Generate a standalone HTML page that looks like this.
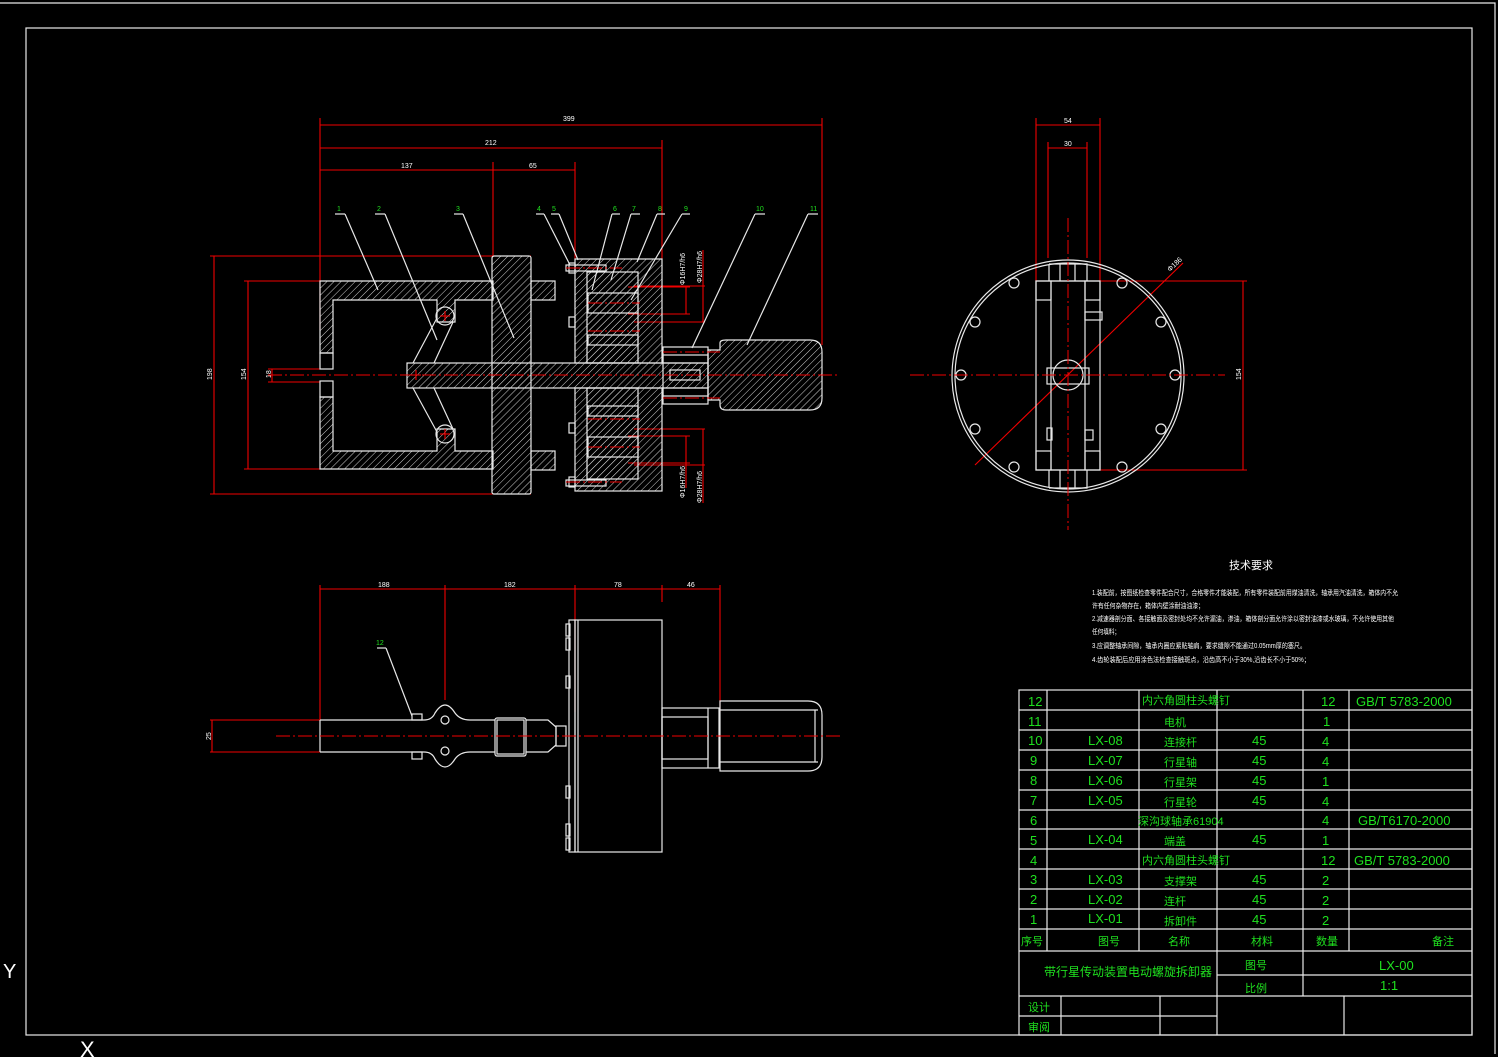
<!DOCTYPE html>
<html><head><meta charset="utf-8"><style>
html,body{margin:0;padding:0;background:#000;}
svg{display:block}
text{font-family:"Liberation Sans","Noto Sans CJK SC",sans-serif;}
.w{stroke:#e8e8e8;fill:none;stroke-width:1.2}
.h{stroke:#e8e8e8;fill:url(#hat);stroke-width:1.2}
.r{stroke:#f00000;fill:none;stroke-width:1.1}
.c{stroke:#f00000;fill:none;stroke-width:1;stroke-dasharray:14 3 2 3}
.g{fill:#1fe01f;font-size:13px}
.gs{fill:#1fe01f;font-size:7px}
.d{fill:#fff;font-size:7px}
.t{fill:#fff;font-size:7px}
</style></head><body>
<svg width="1498" height="1057" viewBox="0 0 1498 1057" xmlns="http://www.w3.org/2000/svg">
<defs>
<pattern id="hat" width="5" height="5" patternUnits="userSpaceOnUse" patternTransform="rotate(45)">
<line x1="0" y1="0" x2="0" y2="5" stroke="#cfcfcf" stroke-width="1"/>
</pattern>
</defs>
<rect width="1498" height="1057" fill="#000"/>
<polyline points="0,3 1495,3 1495,1054" class="w" stroke-width="1"/>
<rect x="26" y="28" width="1446" height="1007" class="w"/>
<text x="3" y="978" fill="#fff" font-size="20">Y</text>
<text x="80" y="1057" fill="#fff" font-size="22">X</text>

<g class="r">
<line x1="320" y1="125" x2="822" y2="125"/><line x1="320" y1="148" x2="662" y2="148"/>
<line x1="320" y1="170" x2="575" y2="170"/>
<line x1="320" y1="118" x2="320" y2="330"/><line x1="493" y1="162" x2="493" y2="256"/>
<line x1="575" y1="162" x2="575" y2="259"/><line x1="662" y1="140" x2="662" y2="259"/>
<line x1="822" y1="118" x2="822" y2="345"/>
<line x1="214" y1="256" x2="214" y2="494"/><line x1="210" y1="256" x2="531" y2="256"/><line x1="210" y1="494" x2="531" y2="494"/>
<line x1="248" y1="281" x2="248" y2="469"/><line x1="244" y1="281" x2="330" y2="281"/><line x1="244" y1="469" x2="330" y2="469"/>
<line x1="272" y1="369" x2="272" y2="382"/><line x1="268" y1="369" x2="320" y2="369"/><line x1="268" y1="382" x2="320" y2="382"/>
<line x1="628" y1="287" x2="690" y2="287"/><line x1="628" y1="314" x2="690" y2="314"/><line x1="686" y1="287" x2="686" y2="314"/>
<line x1="634" y1="286" x2="705" y2="286"/><line x1="634" y1="322" x2="705" y2="322"/><line x1="703" y1="250" x2="703" y2="322"/>
<line x1="628" y1="436" x2="690" y2="436"/><line x1="628" y1="463" x2="690" y2="463"/><line x1="686" y1="436" x2="686" y2="488"/>
<line x1="634" y1="429" x2="705" y2="429"/><line x1="634" y1="465" x2="705" y2="465"/><line x1="703" y1="429" x2="703" y2="503"/>
</g>
<text x="563" y="121" class="d">399</text><text x="485" y="145" class="d">212</text>
<text x="401" y="168" class="d">137</text><text x="529" y="168" class="d">65</text>
<text x="212" y="380" class="d" transform="rotate(-90 212 380)">198</text>
<text x="246" y="380" class="d" transform="rotate(-90 246 380)">154</text>
<text x="271" y="378" class="d" transform="rotate(-90 271 378)">18</text>
<text x="685" y="285" class="d" font-size="6" transform="rotate(-90 685 285)">Φ16H7/h6</text>
<text x="702" y="283" class="d" font-size="6" transform="rotate(-90 702 283)">Φ28H7/h6</text>
<text x="685" y="498" class="d" font-size="6" transform="rotate(-90 685 498)">Φ16H7/h6</text>
<text x="702" y="503" class="d" font-size="6" transform="rotate(-90 702 503)">Φ28H7/h6</text>

<path class="h" d="M320,281 H493 V300 H455 V322 H437 V300 H333 V353 H320 Z"/>
<path class="h" d="M320,469 H493 V451 H455 V429 H437 V451 H333 V397 H320 Z"/>
<rect x="320" y="353" width="13" height="16" class="w"/><rect x="320" y="381" width="13" height="16" class="w"/>
<rect x="531" y="281" width="24" height="19" class="h"/><rect x="531" y="451" width="24" height="19" class="h"/>
<circle cx="445" cy="316" r="9" class="w"/><circle cx="445" cy="434" r="9" class="w"/>
<line x1="413" y1="363" x2="437" y2="318" class="w"/><line x1="434" y1="363" x2="453" y2="322" class="w"/>
<line x1="413" y1="388" x2="437" y2="432" class="w"/><line x1="434" y1="388" x2="453" y2="429" class="w"/>
<rect x="492" y="256" width="39" height="238" rx="2" class="h"/>
<rect x="407" y="363" width="301" height="25" class="h"/>
<g class="r" stroke-width="1.5"><line x1="411" y1="375" x2="421" y2="375"/><line x1="416" y1="370" x2="416" y2="380"/>
<line x1="440" y1="316" x2="450" y2="316"/><line x1="445" y1="311" x2="445" y2="321"/>
<line x1="440" y1="434" x2="450" y2="434"/><line x1="445" y1="429" x2="445" y2="439"/></g>
<rect x="575" y="259" width="87" height="104" class="h"/>
<rect x="575" y="388" width="87" height="103" class="h"/>
<rect x="587" y="272" width="51" height="91" class="h"/>
<rect x="587" y="388" width="51" height="91" class="h"/>
<rect x="588" y="293" width="50" height="20" fill="#000" class="w"/>
<rect x="588" y="437" width="50" height="20" fill="#000" class="w"/>
<rect x="588" y="335" width="50" height="10" fill="#000" class="w"/>
<rect x="588" y="406" width="50" height="10" fill="#000" class="w"/>
<rect x="569" y="263" width="6" height="10" class="w"/><rect x="569" y="317" width="6" height="10" class="w"/>
<rect x="569" y="423" width="6" height="10" class="w"/><rect x="569" y="477" width="6" height="10" class="w"/>
<rect x="566" y="265" width="40" height="6" class="w"/><rect x="566" y="480" width="40" height="6" class="w"/>
<rect x="663" y="347" width="45" height="57" class="w"/>
<rect x="663" y="355" width="45" height="8" class="w"/><rect x="663" y="388" width="45" height="8" class="w"/>
<rect x="670" y="370" width="30" height="10" class="w"/>
<path class="h" d="M708,350 H720 V343 Q720,340 726,340 H810 Q822,340 822,352 V398 Q822,410 810,410 H726 Q720,410 720,405 V400 H708 Z"/>
<g class="c"><line x1="268" y1="375" x2="840" y2="375"/>
<line x1="566" y1="268" x2="622" y2="268"/><line x1="566" y1="482" x2="622" y2="482"/>
<line x1="588" y1="303" x2="640" y2="303"/><line x1="588" y1="447" x2="640" y2="447"/>
<line x1="588" y1="331" x2="640" y2="331"/><line x1="588" y1="419" x2="640" y2="419"/>
<line x1="663" y1="352" x2="720" y2="352"/><line x1="663" y1="398" x2="720" y2="398"/></g>
<g class="w" stroke-width="0.9">
<line x1="335" y1="214" x2="345" y2="214"/><line x1="345" y1="214" x2="378" y2="290"/>
<line x1="375" y1="214" x2="385" y2="214"/><line x1="385" y1="214" x2="437" y2="340"/>
<line x1="454" y1="214" x2="463" y2="214"/><line x1="463" y1="214" x2="514" y2="338"/>
<line x1="536" y1="214" x2="544" y2="214"/><line x1="544" y1="214" x2="570" y2="265"/>
<line x1="551" y1="214" x2="559" y2="214"/><line x1="559" y1="214" x2="578" y2="260"/>
<line x1="612" y1="214" x2="620" y2="214"/><line x1="612" y1="214" x2="592" y2="290"/>
<line x1="631" y1="214" x2="640" y2="214"/><line x1="631" y1="214" x2="611" y2="280"/>
<line x1="657" y1="214" x2="665" y2="214"/><line x1="657" y1="214" x2="637" y2="262"/>
<line x1="682" y1="214" x2="690" y2="214"/><line x1="682" y1="214" x2="631" y2="300"/>
<line x1="755" y1="214" x2="765" y2="214"/><line x1="755" y1="214" x2="692" y2="348"/>
<line x1="808" y1="214" x2="818" y2="214"/><line x1="808" y1="214" x2="747" y2="345"/>
</g>
<g class="gs"><text x="337" y="211">1</text><text x="377" y="211">2</text><text x="456" y="211">3</text>
<text x="537" y="211">4</text><text x="552" y="211">5</text><text x="613" y="211">6</text><text x="632" y="211">7</text>
<text x="658" y="211">8</text><text x="684" y="211">9</text><text x="756" y="211">10</text><text x="810" y="211">11</text></g>

<g class="r">
<line x1="1036" y1="125" x2="1100" y2="125"/><line x1="1036" y1="118" x2="1036" y2="281"/><line x1="1100" y1="118" x2="1100" y2="281"/>
<line x1="1048" y1="148" x2="1087" y2="148"/><line x1="1048" y1="142" x2="1048" y2="258"/><line x1="1087" y1="142" x2="1087" y2="258"/>
<line x1="1243" y1="281" x2="1243" y2="470"/><line x1="1075" y1="281" x2="1247" y2="281"/><line x1="1075" y1="470" x2="1247" y2="470"/>
<line x1="975" y1="465" x2="1183" y2="263"/>
</g>
<text x="1064" y="123" class="d">54</text><text x="1064" y="146" class="d">30</text>
<text x="1241" y="380" class="d" transform="rotate(-90 1241 380)">154</text>
<text x="1170" y="272" class="d" transform="rotate(-44 1170 272)">Φ186</text>
<circle cx="1068" cy="376" r="116" class="w"/><circle cx="1068" cy="376" r="113" class="w"/>
<g class="w">
<circle cx="1014" cy="283" r="5"/><circle cx="1122" cy="283" r="5"/>
<circle cx="975" cy="322" r="5"/><circle cx="1161" cy="322" r="5"/>
<circle cx="961" cy="375" r="5"/><circle cx="1175" cy="375" r="5"/>
<circle cx="975" cy="429" r="5"/><circle cx="1161" cy="429" r="5"/>
<circle cx="1014" cy="467" r="5"/><circle cx="1122" cy="467" r="5"/>
<rect x="1036" y="281" width="64" height="189"/>
<rect x="1051" y="281" width="34" height="189"/>
<rect x="1036" y="281" width="15" height="19"/><rect x="1085" y="281" width="15" height="19"/>
<rect x="1036" y="451" width="15" height="19"/><rect x="1085" y="451" width="15" height="19"/>
<path d="M1049,264 H1087 V281 M1049,264 V281"/><path d="M1049,488 H1087 V470 M1049,488 V470"/>
<path d="M1060,264 V281 M1075,264 V281 M1060,470 V488 M1075,470 V488"/>
<circle cx="1068" cy="375" r="15"/><rect x="1047" y="368" width="42" height="16"/>
<rect x="1085" y="312" width="17" height="8"/><rect x="1085" y="430" width="8" height="10"/><rect x="1047" y="428" width="5" height="12"/>
</g>
<g class="c"><line x1="910" y1="375" x2="1225" y2="375"/><line x1="1068" y1="218" x2="1068" y2="530"/></g>

<g class="r">
<line x1="320" y1="589" x2="720" y2="589"/>
<line x1="320" y1="585" x2="320" y2="720"/><line x1="445" y1="585" x2="445" y2="700"/>
<line x1="575" y1="585" x2="575" y2="712"/><line x1="662" y1="585" x2="662" y2="602"/><line x1="720" y1="585" x2="720" y2="712"/>
<line x1="212" y1="720" x2="212" y2="752"/><line x1="210" y1="720" x2="325" y2="720"/><line x1="210" y1="752" x2="325" y2="752"/>
</g>
<text x="378" y="587" class="d">188</text><text x="504" y="587" class="d">182</text>
<text x="614" y="587" class="d">78</text><text x="687" y="587" class="d">46</text>
<text x="211" y="740" class="d" transform="rotate(-90 211 740)">25</text>
<g class="w">
<path d="M320,720 V752"/>
<path d="M320,720 H424 Q432,720 435,713 Q440,705 445,705 Q450,705 455,713 Q460,720 470,720 H495"/>
<path d="M320,752 H424 Q432,752 435,759 Q440,767 445,767 Q450,767 455,759 Q460,752 470,752 H495"/>
<rect x="495" y="718" width="31" height="38" rx="2"/><rect x="497" y="720" width="27" height="34"/>
<path d="M526,720 H548 L556,727 V745 L548,752 H526"/>
<rect x="556" y="726" width="10" height="20"/>
<rect x="412" y="714" width="10" height="6"/><rect x="412" y="752" width="10" height="7"/>
<ellipse cx="445" cy="720" rx="4" ry="4"/><ellipse cx="445" cy="751" rx="4" ry="4"/>
<rect x="569" y="620" width="6" height="232"/><rect x="575" y="620" width="87" height="232"/><line x1="578" y1="620" x2="578" y2="852"/>
<rect x="566" y="624" width="4" height="12"/><rect x="566" y="638" width="4" height="12"/><rect x="566" y="676" width="4" height="12"/>
<rect x="566" y="786" width="4" height="12"/><rect x="566" y="824" width="4" height="12"/><rect x="566" y="838" width="4" height="12"/>
<rect x="662" y="708" width="57" height="60"/><rect x="662" y="717" width="46" height="42"/><line x1="708" y1="708" x2="708" y2="768"/>
<path d="M720,701 H808 Q822,701 822,715 V757 Q822,771 808,771 H720 Z"/>
<line x1="720" y1="710" x2="818" y2="710"/><line x1="720" y1="762" x2="818" y2="762"/><line x1="815" y1="710" x2="815" y2="762"/>
</g>
<line x1="377" y1="648" x2="386" y2="648" class="w" stroke-width="0.9"/><line x1="386" y1="648" x2="412" y2="716" class="w" stroke-width="0.9"/>
<text x="376" y="645" class="gs">12</text>
<line x1="276" y1="736" x2="840" y2="736" class="c"/>

<text x="1229" y="569" fill="#fff" font-size="11">技术要求</text>
<g class="t">
<text x="1092" y="595" textLength="306" lengthAdjust="spacingAndGlyphs">1.装配前，按图纸检查零件配合尺寸，合格零件才能装配，所有零件装配前用煤油清洗，轴承用汽油清洗，箱体内不允</text>
<text x="1092" y="608" textLength="112" lengthAdjust="spacingAndGlyphs">许有任何杂物存在，箱体内壁涂耐油油漆；</text>
<text x="1092" y="621" textLength="302" lengthAdjust="spacingAndGlyphs">2.减速器剖分面、各接触面及密封处均不允许漏油，渗油，箱体剖分面允许涂以密封油漆或水玻璃，不允许使用其他</text>
<text x="1092" y="634" textLength="28" lengthAdjust="spacingAndGlyphs">任何填料；</text>
<text x="1092" y="648" textLength="214" lengthAdjust="spacingAndGlyphs">3.应调整轴承间隙，轴承内圈应紧贴轴肩，要求缝隙不能通过0.05mm厚的塞尺。</text>
<text x="1092" y="662" textLength="218" lengthAdjust="spacingAndGlyphs">4.齿轮装配后应用涂色法检查接触斑点，沿齿高不小于30%,沿齿长不小于50%；</text>
</g>

<g class="w" stroke="#d8d8d8">
<rect x="1019" y="690" width="453" height="345"/>
<line x1="1019" y1="710" x2="1472" y2="710"/><line x1="1019" y1="730" x2="1472" y2="730"/>
<line x1="1019" y1="750" x2="1472" y2="750"/><line x1="1019" y1="770" x2="1472" y2="770"/>
<line x1="1019" y1="790" x2="1472" y2="790"/><line x1="1019" y1="810" x2="1472" y2="810"/>
<line x1="1019" y1="829" x2="1472" y2="829"/><line x1="1019" y1="849" x2="1472" y2="849"/>
<line x1="1019" y1="869" x2="1472" y2="869"/><line x1="1019" y1="889" x2="1472" y2="889"/>
<line x1="1019" y1="909" x2="1472" y2="909"/><line x1="1019" y1="929" x2="1472" y2="929"/>
<line x1="1019" y1="951" x2="1472" y2="951"/>
<line x1="1047" y1="690" x2="1047" y2="951"/><line x1="1139" y1="690" x2="1139" y2="951"/>
<line x1="1217" y1="690" x2="1217" y2="1035"/><line x1="1303" y1="690" x2="1303" y2="996"/>
<line x1="1349" y1="690" x2="1349" y2="951"/>
<line x1="1217" y1="975" x2="1472" y2="975"/><line x1="1019" y1="996" x2="1472" y2="996"/>
<line x1="1019" y1="1016" x2="1217" y2="1016"/>
<line x1="1061" y1="996" x2="1061" y2="1035"/><line x1="1160" y1="996" x2="1160" y2="1035"/>
<line x1="1344" y1="996" x2="1344" y2="1035"/>
</g>
<g class="g">
<text x="1028" y="706">12</text><text x="1142" y="704" font-size="11">内六角圆柱头螺钉</text><text x="1321" y="706">12</text><text x="1356" y="706">GB/T 5783-2000</text>
<text x="1028" y="726">11</text><text x="1164" y="726" font-size="11">电机</text><text x="1323" y="726">1</text>
<text x="1028" y="745">10</text><text x="1088" y="745">LX-08</text><text x="1164" y="746" font-size="11">连接杆</text><text x="1252" y="745">45</text><text x="1322" y="746">4</text>
<text x="1030" y="765">9</text><text x="1088" y="765">LX-07</text><text x="1164" y="766" font-size="11">行星轴</text><text x="1252" y="765">45</text><text x="1322" y="766">4</text>
<text x="1030" y="785">8</text><text x="1088" y="785">LX-06</text><text x="1164" y="786" font-size="11">行星架</text><text x="1252" y="785">45</text><text x="1322" y="786">1</text>
<text x="1030" y="805">7</text><text x="1088" y="805">LX-05</text><text x="1164" y="806" font-size="11">行星轮</text><text x="1252" y="805">45</text><text x="1322" y="806">4</text>
<text x="1030" y="825">6</text><text x="1138" y="825" font-size="11">深沟球轴承61904</text><text x="1322" y="825">4</text><text x="1358" y="825">GB/T6170-2000</text>
<text x="1030" y="845">5</text><text x="1088" y="844">LX-04</text><text x="1164" y="845" font-size="11">端盖</text><text x="1252" y="844">45</text><text x="1322" y="845">1</text>
<text x="1030" y="865">4</text><text x="1142" y="864" font-size="11">内六角圆柱头螺钉</text><text x="1321" y="865">12</text><text x="1354" y="865">GB/T 5783-2000</text>
<text x="1030" y="884">3</text><text x="1088" y="884">LX-03</text><text x="1164" y="885" font-size="11">支撑架</text><text x="1252" y="884">45</text><text x="1322" y="885">2</text>
<text x="1030" y="904">2</text><text x="1088" y="904">LX-02</text><text x="1164" y="905" font-size="11">连杆</text><text x="1252" y="904">45</text><text x="1322" y="905">2</text>
<text x="1030" y="924">1</text><text x="1088" y="923">LX-01</text><text x="1164" y="925" font-size="11">拆卸件</text><text x="1252" y="924">45</text><text x="1322" y="925">2</text>
<g font-size="11"><text x="1021" y="945">序号</text><text x="1098" y="945">图号</text><text x="1168" y="945">名称</text><text x="1251" y="945">材料</text><text x="1316" y="945">数量</text><text x="1432" y="945">备注</text>
<text x="1044" y="976" font-size="12">带行星传动装置电动螺旋拆卸器</text>
<text x="1245" y="969">图号</text><text x="1245" y="992">比例</text>
<text x="1028" y="1011">设计</text><text x="1028" y="1031">审阅</text></g>
<text x="1379" y="970">LX-00</text><text x="1380" y="990">1:1</text>
</g>
</svg>
</body></html>
